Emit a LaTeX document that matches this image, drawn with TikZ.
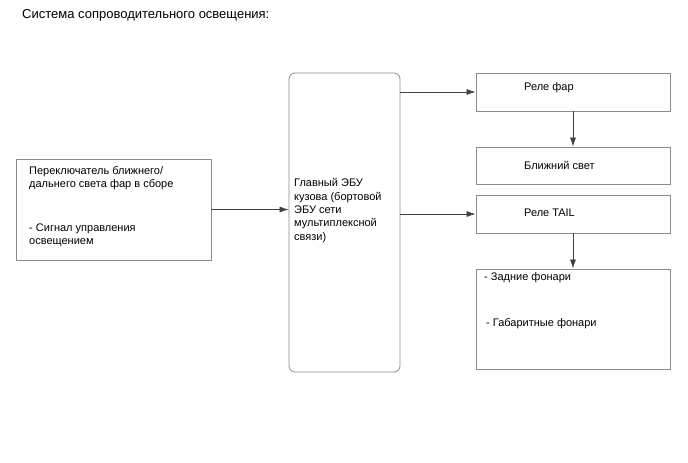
\documentclass[tikz,border=0pt]{standalone}
\usepackage{fontspec}
\setmainfont{Liberation Sans}
\usetikzlibrary{arrows.meta}
\definecolor{boxline}{HTML}{8C8C8C}
\begin{document}
\begin{tikzpicture}[x=1pt,y=-1pt,
  box/.style={draw=boxline,line width=0.8pt,rectangle,inner sep=0pt},
  txt/.style={inner sep=0pt,anchor=west,font=\fontsize{11}{13.3}\selectfont,align=left},
  conn/.style={draw=black!75,line width=0.7pt,-{Latex[length=9pt,width=6pt]}}]
\useasboundingbox (0,0) rectangle (688,463);
\node[inner sep=0pt,anchor=west,font=\fontsize{13}{15}\selectfont] (title) at (22,15) {Система сопроводительного освещения:};
% left box
\node[box,minimum width=195pt,minimum height=101pt] (sw) at (113.5,209.5) {};
\node[txt] (swt1) at (29,178) {Переключатель ближнего/\\дальнего света фар в сборе};
\node[txt] (swt2) at (29,235.5) {- Сигнал управления\\освещением};
% ECU
\node[box,rounded corners=6pt,minimum width=111pt,minimum height=299pt] (ecu) at (344.5,222.5) {};
\node[txt] (ecut) at (294,210.5) {Главный ЭБУ\\кузова (бортовой\\ЭБУ сети\\мультиплексной\\связи)};
% right boxes
\node[box,minimum width=194pt,minimum height=38pt] (rf) at (573,92) {};
\node[txt] (rft) at (524,88) {Реле фар};
\node[box,minimum width=194pt,minimum height=37pt] (low) at (573,165.5) {};
\node[txt] (lowt) at (524,165) {Ближний свет};
\node[box,minimum width=194pt,minimum height=38pt] (tail) at (573,214) {};
\node[txt] (tailt) at (524,213) {Реле TAIL};
\node[box,minimum width=194pt,minimum height=100pt] (lamps) at (573,319) {};
\node[txt] (lampt1) at (484,278) {- Задние фонари};
\node[txt] (lampt2) at (486,324) {- Габаритные фонари};
% connectors
\draw[conn] (sw.east) -- (ecu.west |- sw.east);
\draw[conn] (ecu.east |- rf.west) -- (rf.west);
\draw[conn] (ecu.east |- tail.west) -- (tail.west);
\draw[conn] (rf.south) -- (low.north);
\draw[conn] (tail.south) -- (lamps.north);
\end{tikzpicture}
\end{document}
